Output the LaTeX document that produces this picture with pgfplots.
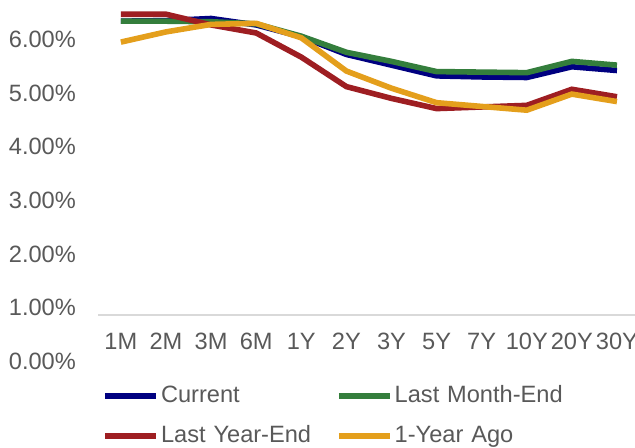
\documentclass[border=0pt]{standalone}
\usepackage{pgfplots}
\pgfplotsset{compat=1.18}
\usepackage{fontspec}
\setmainfont{Liberation Sans}
\definecolor{cblue}{RGB}{0,0,128}
\definecolor{cgreen}{RGB}{52,126,60}
\definecolor{cred}{RGB}{158,30,34}
\definecolor{corange}{RGB}{228,159,28}
\definecolor{tgray}{RGB}{89,89,89}
\definecolor{ggray}{RGB}{217,217,217}
\begin{document}
\begin{tikzpicture}
\begin{axis}[
  name=ax,
  scale only axis,
  width=268.25pt, height=180.5pt,
  xmin=-0.5, xmax=11.4,
  ymin=0, ymax=6.735,
  axis line style={draw=none},
  tick style={draw=none},
  xtick={0,...,11},
  xticklabels={1M,2M,3M,6M,1Y,2Y,3Y,5Y,7Y,10Y,20Y,30Y},
  ytick={0,1,2,3,4,5,6},
  yticklabels={0.00\%,1.00\%,2.00\%,3.00\%,4.00\%,5.00\%,6.00\%},
  tick label style={font=\fontsize{11.8}{14}\selectfont, text=tgray},
  xticklabel style={anchor=center, yshift=9.75pt},
  yticklabel style={xshift=-7.7pt},
  extra y ticks={0.858},
  extra y tick labels={},
  extra y tick style={grid=major, major grid style={draw=ggray, line width=0.8pt}},
  legend columns=2,
  legend cell align=left,
  legend image code/.code={\draw[#1, line width=2.8pt] (0pt,0pt) -- (25.5pt,0pt);},
  legend style={draw=none, fill=none, at={(axis description cs:0,0)}, anchor=north west,
    xshift=-1.15pt, yshift=-9.25pt,
    font=\fontsize{11.8}{14}\selectfont, text=tgray,
    nodes={inner sep=0pt, text height=9pt, text depth=3pt},
    /tikz/every odd column/.append style={column sep=1pt},
    /tikz/every even column/.append style={column sep=2.5pt, text width=85pt},
    row sep=8pt},
]
\addplot[cblue, line width=2.8pt] coordinates {(0,6.34) (1,6.35) (2,6.39) (3,6.27) (4,6.05) (5,5.72) (6,5.52) (7,5.32) (8,5.30) (9,5.29) (10,5.49) (11,5.42)};
\addlegendentry{Current}
\addplot[cgreen, line width=2.8pt] coordinates {(0,6.34) (1,6.34) (2,6.33) (3,6.29) (4,6.06) (5,5.76) (6,5.59) (7,5.40) (8,5.39) (9,5.38) (10,5.59) (11,5.52)};
\addlegendentry{Last Month-End}
\addplot[cred, line width=2.8pt] coordinates {(0,6.47) (1,6.47) (2,6.27) (3,6.12) (4,5.67) (5,5.12) (6,4.90) (7,4.71) (8,4.74) (9,4.77) (10,5.07) (11,4.93)};
\addlegendentry{Last Year-End}
\addplot[corange, line width=2.8pt] coordinates {(0,5.95) (1,6.14) (2,6.28) (3,6.30) (4,6.03) (5,5.41) (6,5.09) (7,4.82) (8,4.75) (9,4.68) (10,4.98) (11,4.84)};
\addlegendentry{1-Year Ago}
\end{axis}
\pgfresetboundingbox
\path ([xshift=-49.15pt,yshift=-43pt]ax.south west) rectangle (ax.north east);
\end{tikzpicture}
\end{document}
